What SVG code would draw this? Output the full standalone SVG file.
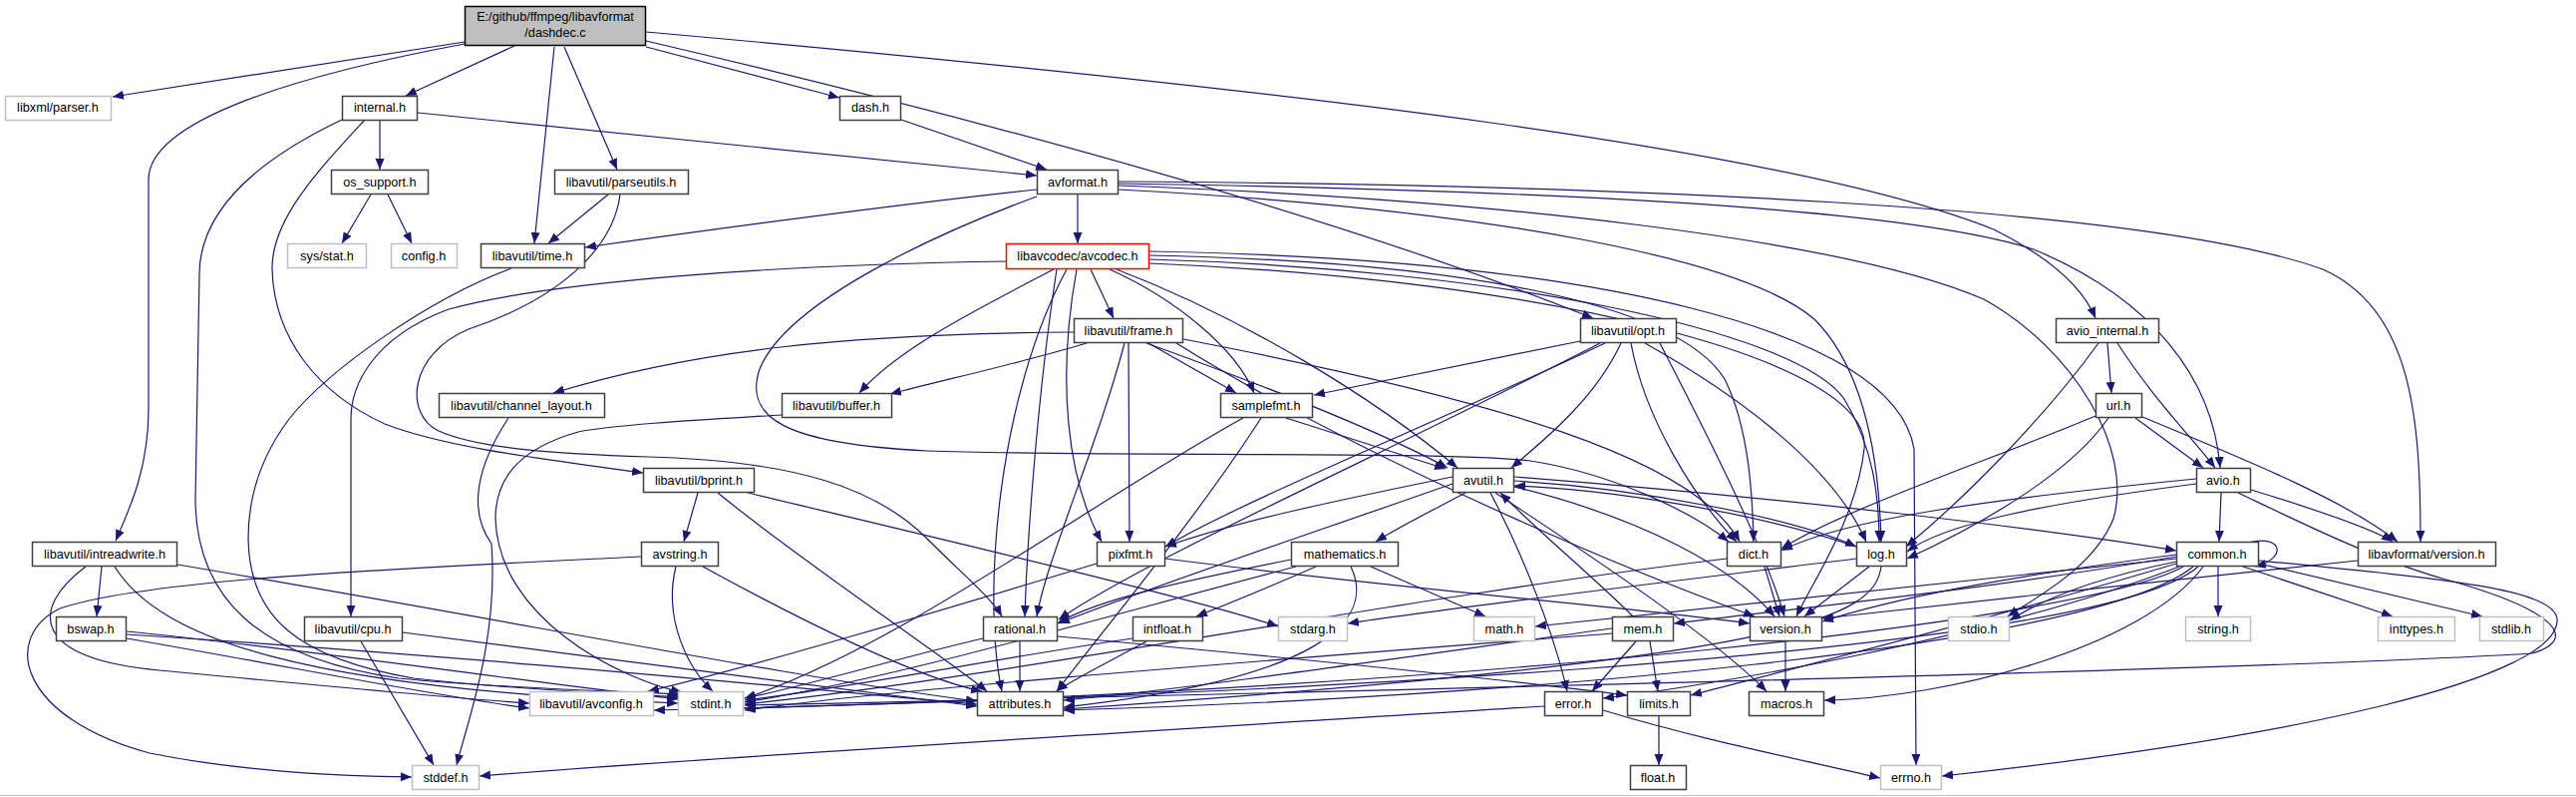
<svg xmlns="http://www.w3.org/2000/svg" width="2584" height="799" viewBox="0 0 2584 799">
<defs>
<marker id="ah" markerUnits="userSpaceOnUse" markerWidth="12" markerHeight="10" refX="11" refY="4.5" orient="auto">
<path d="M0,0 L11,4.5 L0,9 z" fill="#191970"/>
</marker>
<style>
.e path{fill:none;stroke:#191970;stroke-width:1.2;marker-end:url(#ah)}
.n rect{fill:#fff;stroke:#404040;stroke-width:1.5}
.g rect{fill:#fff;stroke:#bfbfbf;stroke-width:1.5}
text{font-family:"Liberation Sans",Arial,sans-serif;font-size:12.7px;fill:#000;text-anchor:middle}
</style>
</defs>
<rect width="2584" height="799" fill="#fff"/>
<line x1="0" y1="797.5" x2="2584" y2="797.5" stroke="#c0c0c0" stroke-width="1"/>
<g class="e" id="edges">
<!-- dashdec -->
<path d="M466,42 L113,97"/>
<path d="M466,44 C300,75 149,120 149,180 L149,410 C149,470 130,510 116,542"/>
<path d="M516,46 L407,96"/>
<path d="M556,47 L536,244"/>
<path d="M566,47 L619,170"/>
<path d="M648,47 L842,98"/>
<path d="M648,41 C900,100 1300,200 1598,319"/>
<path d="M648,32 C1300,90 1800,150 2000,230 C2060,260 2090,290 2102,319"/>
<!-- internal -->
<path d="M381,120 L381,170"/>
<path d="M419,113 C700,140 900,160 1040,176"/>
<path d="M366,120 C320,170 272,220 273,270 C275,340 320,395 386,425 C450,450 560,462 645,474"/>
<path d="M343,120 C280,150 200,200 200,275 L196,500 C196,600 260,660 400,680 C500,690 600,692 682,696"/>
<!-- os_support -->
<path d="M372,195 L343,244"/>
<path d="M389,195 L413,244"/>
<!-- parseutils -->
<path d="M610,195 L550,244"/>
<path d="M622,195 C615,250 560,300 470,330 C410,355 405,415 440,432 C480,450 560,455 650,458 C800,462 880,490 930,540 C970,580 995,600 1005,618"/>
<!-- dash -->
<path d="M904,120 L1050,170"/>
<!-- avformat -->
<path d="M1081,195 L1081,244"/>
<path d="M1040,190 C900,205 750,225 587,248"/>
<path d="M1040,197 C950,230 790,300 762,370 C745,420 790,445 930,452 C1100,458 1450,452 1535,462 C1620,475 1700,515 1734,543"/>
<path d="M1122,190 C1500,210 1750,260 1820,320 C1870,370 1885,460 1887,543"/>
<path d="M1122,186 C1500,200 1850,240 1990,300 C2080,350 2140,450 2120,520 C2100,570 2040,600 2014,618"/>
<path d="M1122,184 C1500,190 1900,205 2040,250 C2160,300 2220,380 2227,469"/>
<path d="M1122,182 C1600,185 2150,205 2330,270 C2420,310 2428,420 2428,543"/>
<!-- avcodec -->
<path d="M1094,270 L1117,319"/>
<path d="M1057,270 C980,310 900,350 862,394"/>
<path d="M1113,270 C1180,300 1240,350 1258,394"/>
<path d="M1009,262 C800,265 560,280 450,310 C370,340 352,390 352,420 L352,618"/>
<path d="M1120,270 C1250,320 1380,400 1462,469"/>
<path d="M1153,256 C1450,262 1680,300 1730,380 C1755,430 1758,500 1759,543"/>
<path d="M1153,260 C1500,270 1800,330 1850,400 C1880,450 1885,500 1885,543"/>
<path d="M1153,264 C1550,280 1880,360 1870,450 C1862,520 1820,580 1802,618"/>
<path d="M1153,252 C1600,260 1900,330 1920,450 L1922,767"/>
<path d="M1070,270 C1000,400 985,600 1005,693"/>
<path d="M1080,270 C1060,380 1070,480 1105,543"/>
<path d="M1060,270 C1040,400 1030,550 1028,618"/>
<!-- frame -->
<path d="M1132,344 L1133,543"/>
<path d="M1150,344 C1250,380 1380,430 1452,469"/>
<path d="M1090,344 C1020,365 950,380 893,395"/>
<path d="M1152,344 L1240,394"/>
<path d="M1187,340 C1500,400 1700,460 1745,543"/>
<path d="M1128,344 C1100,450 1050,560 1040,618"/>
<path d="M1180,344 C1350,450 1600,560 1760,618"/>
<path d="M1077,333 C850,335 700,350 555,394"/>
<!-- opt -->
<path d="M1585,342 L1318,396"/>
<path d="M1610,344 C1450,420 1250,500 1169,548"/>
<path d="M1626,344 C1600,400 1550,440 1516,469"/>
<path d="M1605,344 C1400,450 1150,560 1062,621"/>
<path d="M1636,344 C1650,420 1700,500 1742,543"/>
<path d="M1650,344 C1750,400 1840,470 1872,543"/>
<path d="M1665,344 C1720,450 1770,550 1790,618"/>
<!-- avio_internal -->
<path d="M2114,344 L2118,394"/>
<path d="M2124,344 C2160,400 2200,440 2222,469"/>
<path d="M2105,344 C2050,420 1970,500 1912,548"/>
<!-- url -->
<path d="M2142,419 L2210,469"/>
<path d="M2149,418 C2250,460 2350,500 2405,543"/>
<path d="M2102,417 C2000,460 1850,510 1787,550"/>
<path d="M2115,419 C2080,470 2000,520 1913,560"/>
<!-- channel_layout, buffer, time -->
<path d="M510,419 C470,480 475,520 493,545 C500,640 470,720 458,767"/>
<path d="M784,416 C720,420 620,425 580,433 C520,450 497,480 497,520 C500,620 620,680 684,694"/>
<path d="M513,269 C430,300 330,370 290,420 C260,460 249,500 249,540 C250,620 300,660 415,680 C520,692 620,695 684,699"/>
<!-- samplefmt -->
<path d="M1247,419 C1100,500 900,650 747,700"/>
<path d="M1290,419 L1450,470"/>
<path d="M1265,419 C1200,520 1100,640 1060,693"/>
<!-- bprint -->
<path d="M700,494 L686,543"/>
<path d="M750,494 C900,530 1200,600 1282,628"/>
<path d="M720,494 C800,560 950,660 990,693"/>
<!-- avutil -->
<path d="M1519,478 C1800,500 2050,530 2183,552"/>
<path d="M1495,494 C1530,560 1560,640 1572,693"/>
<path d="M1457,485 C1300,540 1150,590 1062,625"/>
<path d="M1519,488 C1650,520 1740,570 1780,618"/>
<path d="M1500,494 C1600,560 1720,640 1772,693"/>
<path d="M1470,494 C1440,510 1400,530 1380,543"/>
<path d="M1519,482 C1650,490 1800,520 1862,548"/>
<path d="M1457,478 C1350,500 1250,520 1169,548"/>
<!-- avio -->
<path d="M2228,494 L2226,543"/>
<path d="M2203,480 C2000,500 1850,520 1787,552"/>
<path d="M2203,485 C2050,505 1950,525 1913,553"/>
<path d="M2245,494 C2300,520 2380,560 2450,580 C2560,610 2590,640 2540,655 C2300,670 1500,690 747,707"/>
<path d="M2258,491 C2320,510 2380,530 2400,543"/>
<!-- intreadwrite -->
<path d="M102,568 L97,618"/>
<path d="M115,568 C160,640 300,690 680,705"/>
<path d="M86,568 C30,610 30,660 160,672 C300,685 450,700 531,705"/>
<path d="M178,566 C500,620 800,680 980,703"/>
<!-- bswap -->
<path d="M127,633 C300,650 500,680 680,701"/>
<path d="M127,640 C300,670 450,700 531,710"/>
<path d="M127,636 C500,660 800,690 980,706"/>
<!-- cpu -->
<path d="M362,643 L435,767"/>
<path d="M404,634 C600,660 850,690 980,708"/>
<!-- avstring -->
<path d="M643,558 C400,570 150,580 60,610 C0,640 20,720 150,755 C250,775 350,778 413,779"/>
<path d="M678,568 C665,620 690,670 715,693"/>
<path d="M705,568 C800,620 920,680 985,693"/>
<!-- pixfmt -->
<path d="M1100,565 C950,610 750,670 650,693"/>
<path d="M1169,560 C1400,590 1650,610 1755,625"/>
<!-- mathematics -->
<path d="M1300,568 C1100,620 900,680 747,704"/>
<path d="M1375,568 L1490,618"/>
<path d="M1355,568 C1380,620 1330,680 1067,709"/>
<path d="M1300,560 C1200,580 1100,600 1061,625"/>
<path d="M1320,568 C1270,590 1220,610 1200,618"/>
<!-- dict -->
<path d="M1732,560 C1400,600 1000,680 747,706"/>
<path d="M1770,568 L1785,618"/>
<!-- log -->
<path d="M1862,560 C1700,580 1450,610 1352,625"/>
<path d="M1862,548 C1750,510 1600,490 1519,487"/>
<path d="M1887,568 C1880,620 1800,660 1067,711"/>
<path d="M1875,568 L1810,618"/>
<!-- common -->
<path d="M2266,562 C2450,580 2560,590 2565,620 C2570,680 2300,740 1948,778"/>
<path d="M2250,568 L2400,618"/>
<path d="M2183,565 C2000,620 1800,670 1696,697"/>
<path d="M2183,560 C1900,590 1700,610 1540,628"/>
<path d="M2190,568 C2100,620 1500,690 747,710"/>
<path d="M2183,563 C2100,580 2050,600 2016,622"/>
<path d="M2266,565 L2490,618"/>
<path d="M2225,568 L2225,618"/>
<path d="M2200,568 C2100,650 1500,700 1067,712"/>
<path d="M2210,568 C2150,650 1950,700 1830,702"/>
<path d="M2183,556 C2000,580 1900,600 1828,623"/>
<path d="M2205,568 C2100,660 1200,700 656,712"/>
<path d="M2183,558 C2000,590 1800,610 1679,625"/>
<path d="M2255,544 C2290,535 2295,560 2262,568"/>
<path d="M2186,568 C2000,640 1700,690 1608,700"/>
<!-- mem -->
<path d="M1641,643 L1597,693"/>
<path d="M1655,643 L1663,693"/>
<path d="M1617,635 C1300,660 900,690 747,712"/>
<path d="M1617,630 C1400,660 1200,690 1067,702"/>
<path d="M1638,618 C1600,580 1540,530 1505,494"/>
<!-- version, lavf version -->
<path d="M1791,643 L1791,693"/>
<path d="M2365,562 C2200,580 2000,600 1828,620"/>
<!-- rational -->
<path d="M986,640 C900,660 800,690 747,700"/>
<path d="M1061,638 C1300,660 1500,680 1632,697"/>
<path d="M1023,643 L1023,693"/>
<!-- intfloat -->
<path d="M1136,640 C1000,660 850,690 747,702"/>
<path d="M1150,643 C1100,670 1070,685 1060,693"/>
<!-- error -->
<path d="M1608,712 C1700,740 1800,760 1886,780"/>
<path d="M1549,708 C1200,730 700,760 481,778"/>
<!-- limits -->
<path d="M1664,718 L1664,767"/>
</g>
<g id="dashdec"><rect x="466.5" y="6.5" width="181" height="39" fill="#bfbfbf" stroke="#000" stroke-width="1.5"/><text x="557" y="21">E:/github/ffmpeg/libavformat</text><text x="557" y="37">/dashdec.c</text></g>
<g id="libxml_parser" class="g"><rect x="5.5" y="96.5" width="106" height="24"/><text x="58" y="112">libxml/parser.h</text></g>
<g id="internal" class="n"><rect x="343.5" y="96.5" width="75" height="24"/><text x="381" y="112">internal.h</text></g>
<g id="dash" class="n"><rect x="842.5" y="96.5" width="61" height="24"/><text x="873" y="112">dash.h</text></g>
<g id="os_support" class="n"><rect x="332.5" y="170.5" width="97" height="24"/><text x="381" y="187">os_support.h</text></g>
<g id="parseutils" class="n"><rect x="556.5" y="170.5" width="134" height="24"/><text x="623" y="187">libavutil/parseutils.h</text></g>
<g id="avformat" class="n"><rect x="1040.5" y="170.5" width="81" height="24"/><text x="1081" y="187">avformat.h</text></g>
<g id="sys_stat" class="g"><rect x="288.5" y="244.5" width="79" height="24"/><text x="328" y="261">sys/stat.h</text></g>
<g id="config" class="g"><rect x="392.5" y="244.5" width="66" height="24"/><text x="425" y="261">config.h</text></g>
<g id="time" class="n"><rect x="482.5" y="244.5" width="104" height="24"/><text x="534" y="261">libavutil/time.h</text></g>
<g id="avcodec"><rect x="1009.5" y="244.5" width="143" height="25" fill="#fff" stroke="#ff0000" stroke-width="1.5"/><text x="1081" y="261">libavcodec/avcodec.h</text></g>
<g id="frame" class="n"><rect x="1077.5" y="319.5" width="109" height="24"/><text x="1132" y="336">libavutil/frame.h</text></g>
<g id="opt" class="n"><rect x="1585.5" y="319.5" width="96" height="24"/><text x="1633" y="336">libavutil/opt.h</text></g>
<g id="avio_internal" class="n"><rect x="2062.5" y="319.5" width="103" height="24"/><text x="2114" y="336">avio_internal.h</text></g>
<g id="channel_layout" class="n"><rect x="440.5" y="394.5" width="166" height="24"/><text x="523" y="411">libavutil/channel_layout.h</text></g>
<g id="buffer" class="n"><rect x="784.5" y="394.5" width="110" height="24"/><text x="839" y="411">libavutil/buffer.h</text></g>
<g id="samplefmt" class="n"><rect x="1224.5" y="394.5" width="92" height="24"/><text x="1270" y="411">samplefmt.h</text></g>
<g id="url" class="n"><rect x="2102.5" y="394.5" width="46" height="24"/><text x="2125" y="411">url.h</text></g>
<g id="bprint" class="n"><rect x="645.5" y="469.5" width="111" height="24"/><text x="701" y="486">libavutil/bprint.h</text></g>
<g id="avutil" class="n"><rect x="1457.5" y="469.5" width="61" height="24"/><text x="1488" y="486">avutil.h</text></g>
<g id="avio" class="n"><rect x="2203.5" y="469.5" width="54" height="24"/><text x="2230" y="486">avio.h</text></g>
<g id="intreadwrite" class="n"><rect x="32.5" y="543.5" width="145" height="24"/><text x="105" y="560">libavutil/intreadwrite.h</text></g>
<g id="avstring" class="n"><rect x="643.5" y="543.5" width="77" height="24"/><text x="682" y="560">avstring.h</text></g>
<g id="pixfmt" class="n"><rect x="1100.5" y="543.5" width="68" height="24"/><text x="1134" y="560">pixfmt.h</text></g>
<g id="mathematics" class="n"><rect x="1295.5" y="543.5" width="107" height="24"/><text x="1349" y="560">mathematics.h</text></g>
<g id="dict" class="n"><rect x="1732.5" y="543.5" width="54" height="24"/><text x="1759" y="560">dict.h</text></g>
<g id="log" class="n"><rect x="1862.5" y="543.5" width="50" height="24"/><text x="1887" y="560">log.h</text></g>
<g id="common" class="n"><rect x="2183.5" y="543.5" width="82" height="24"/><text x="2224" y="560">common.h</text></g>
<g id="lavf_version" class="n"><rect x="2365.5" y="543.5" width="138" height="24"/><text x="2434" y="560">libavformat/version.h</text></g>
<g id="bswap" class="n"><rect x="56.5" y="618.5" width="70" height="24"/><text x="91" y="635">bswap.h</text></g>
<g id="cpu" class="n"><rect x="305.5" y="618.5" width="98" height="24"/><text x="354" y="635">libavutil/cpu.h</text></g>
<g id="rational" class="n"><rect x="986.5" y="618.5" width="74" height="24"/><text x="1023" y="635">rational.h</text></g>
<g id="intfloat" class="n"><rect x="1136.5" y="618.5" width="70" height="24"/><text x="1171" y="635">intfloat.h</text></g>
<g id="stdarg" class="g"><rect x="1282.5" y="618.5" width="69" height="24"/><text x="1317" y="635">stdarg.h</text></g>
<g id="math" class="g"><rect x="1478.5" y="618.5" width="61" height="24"/><text x="1509" y="635">math.h</text></g>
<g id="mem" class="n"><rect x="1617.5" y="618.5" width="61" height="24"/><text x="1648" y="635">mem.h</text></g>
<g id="version" class="n"><rect x="1755.5" y="618.5" width="72" height="24"/><text x="1791" y="635">version.h</text></g>
<g id="stdio" class="g"><rect x="1954.5" y="618.5" width="61" height="24"/><text x="1985" y="635">stdio.h</text></g>
<g id="string" class="g"><rect x="2192.5" y="618.5" width="65" height="24"/><text x="2225" y="635">string.h</text></g>
<g id="inttypes" class="g"><rect x="2385.5" y="618.5" width="77" height="24"/><text x="2424" y="635">inttypes.h</text></g>
<g id="stdlib" class="g"><rect x="2487.5" y="618.5" width="64" height="24"/><text x="2519" y="635">stdlib.h</text></g>
<g id="avconfig" class="g"><rect x="531.5" y="693.5" width="124" height="24"/><text x="593" y="710">libavutil/avconfig.h</text></g>
<g id="stdint" class="g"><rect x="680.5" y="693.5" width="65" height="24"/><text x="713" y="710">stdint.h</text></g>
<g id="attributes" class="n"><rect x="980.5" y="693.5" width="86" height="24"/><text x="1023" y="710">attributes.h</text></g>
<g id="error" class="n"><rect x="1549.5" y="693.5" width="58" height="24"/><text x="1578" y="710">error.h</text></g>
<g id="limits" class="n"><rect x="1632.5" y="693.5" width="63" height="24"/><text x="1664" y="710">limits.h</text></g>
<g id="macros" class="n"><rect x="1754.5" y="693.5" width="75" height="24"/><text x="1792" y="710">macros.h</text></g>
<g id="stddef" class="g"><rect x="413.5" y="767.5" width="67" height="24"/><text x="447" y="784">stddef.h</text></g>
<g id="float" class="n"><rect x="1635.5" y="767.5" width="56" height="24"/><text x="1663" y="784">float.h</text></g>
<g id="errno" class="g"><rect x="1886.5" y="767.5" width="61" height="24"/><text x="1917" y="784">errno.h</text></g>
</svg>
